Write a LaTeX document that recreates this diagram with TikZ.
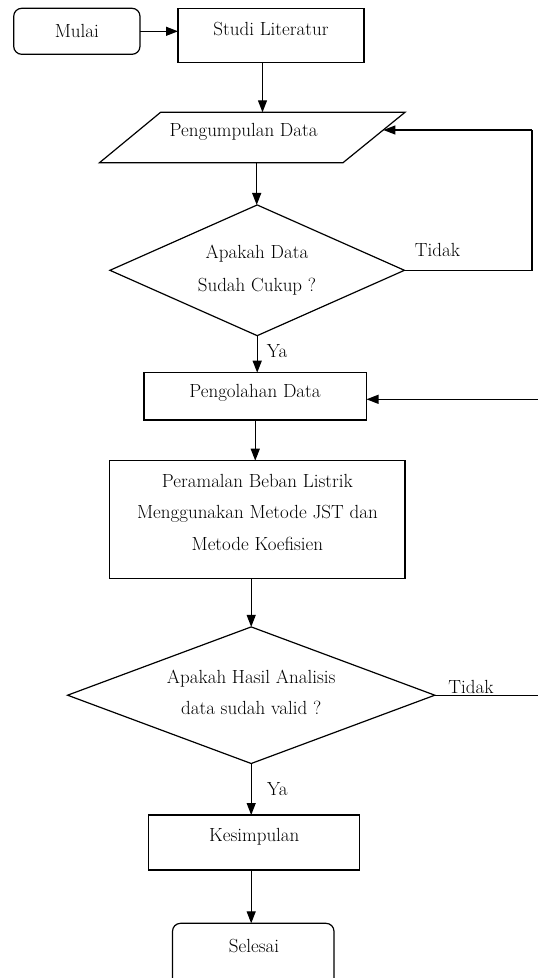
\documentclass[tikz,border=0pt]{standalone}
\usetikzlibrary{shapes.geometric,arrows.meta}
\begin{document}
\begin{tikzpicture}[x=1pt,y=-1pt,
  line width=1.2pt,
  every node/.style={inner sep=0pt, outer sep=0pt},
  fnt/.style={font=\fontsize{19}{33}\selectfont},
  box/.style={draw, rectangle},
  term/.style={draw, rectangle, rounded corners=8pt},
  dec/.style={draw, diamond},
  txt/.style={fnt, align=center},
  arr/.style={-{Triangle[length=12pt,width=9pt]}},
]
\useasboundingbox (0,0) rectangle (538,978);
\clip (0,0) rectangle (538,978);

% nodes
\node[term, minimum width=126.3pt, minimum height=46pt, fnt] (mulai) at (76.85,31.3) {Mulai};
\node[box, minimum width=186pt, minimum height=54pt] (studi) at (271,35.3) {};
\node[txt] (studiT) at (271,29) {Studi Literatur};

\coordinate (pdTL) at (160.6,112.3);
\coordinate (pdTR) at (405,112.3);
\coordinate (pdBR) at (343,162.7);
\coordinate (pdBL) at (99.5,162.7);
\draw (pdTL) -- (pdTR) -- (pdBR) -- (pdBL) -- cycle;
\node[txt] (pdT) at (243.6,132.3) {Pengumpulan Data};
\coordinate (pdtop) at (262.5,112.3);
\coordinate (pdbot) at (256.7,162.7);
\coordinate (pdright) at (383.4,130);

\node[dec, minimum width=294.5pt, minimum height=130.7pt] (d1) at (257.2,270.3) {};
\node[txt, font=\fontsize{19}{33.4}\selectfont] (d1T) at (257,270) {Apakah Data\\Sudah Cukup ?};

\node[box, minimum width=222.5pt, minimum height=47.3pt] (olah) at (255.25,396.35) {};
\node[txt] (olahT) at (255,392.7) {Pengolahan Data};

\node[box, minimum width=295.2pt, minimum height=117.6pt] (ramal) at (257.4,519.5) {};
\node[txt, font=\fontsize{19}{31.7}\selectfont] (ramalT) at (257.4,512.3) {Peramalan Beban Listrik\\Menggunakan Metode JST dan\\Metode Koefisien};

\node[dec, minimum width=367.2pt, minimum height=136.6pt] (d2) at (251.2,695.2) {};
\node[txt, font=\fontsize{19}{31.6}\selectfont] (d2T) at (251.2,692.5) {Apakah Hasil Analisis\\data sudah valid ?};

\node[box, minimum width=211pt, minimum height=55pt] (kes) at (253.8,842.5) {};
\node[txt] (kesT) at (254.3,836.7) {Kesimpulan};

\node[term, minimum width=161.5pt, minimum height=66.7pt] (sel) at (253.25,956.65) {};
\node[txt] (selT) at (254,946) {Selesai};

% labels
\node[txt] (tidak1) at (437.5,250) {Tidak};
\node[fnt, anchor=base] (tidak2) at (471,693.3) {Tidak};
\node[txt] (ya1) at (277,351) {Ya};
\node[txt] (ya2) at (277.3,789.3) {Ya};

% connectors
\coordinate (fb1) at (532,130);
\coordinate (fb2) at (542,399.3);
\coordinate (e2) at (542,695.2);

\draw[arr] (mulai.east) -- (mulai.east -| studi.west);
\draw[arr] (pdtop |- studi.south) -- (pdtop);
\draw[arr] (pdbot) -- (pdbot |- d1.north);
\draw (d1.east) -| (fb1);
\draw[arr] (fb1) -- (pdright);
\draw[arr] (d1.south) -- (d1.south |- olah.north);
\draw[arr] (fb2) -- (fb2 -| olah.east);
\draw[arr] (olah.south) -- (olah.south |- ramal.north);
\draw[arr] (d2.north |- ramal.south) -- (d2.north);
\draw (d2.east) -- (e2);
\draw[arr] (d2.south) -- (d2.south |- kes.north);
\draw[arr] (d2.south |- kes.south) -- (d2.south |- sel.north);
\end{tikzpicture}
\end{document}
